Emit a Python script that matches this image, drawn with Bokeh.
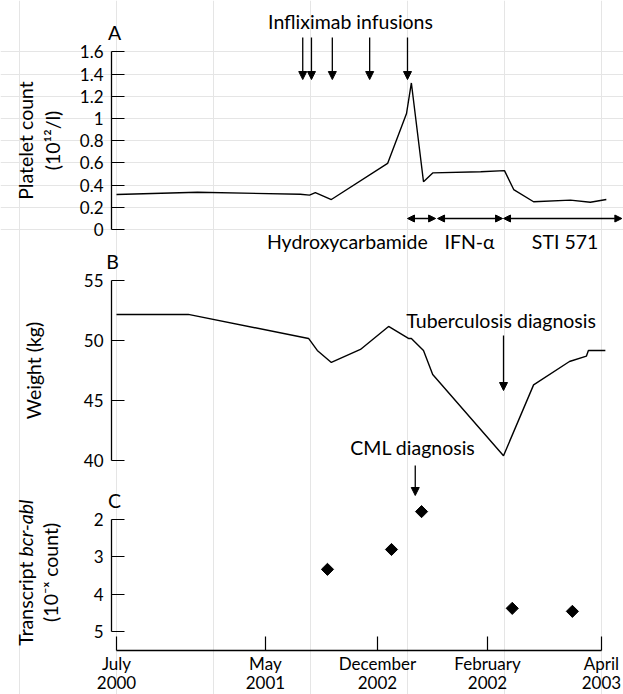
import math
from bokeh.plotting import figure
from bokeh.models import Range1d, FixedTicker, Label, Arrow, NormalHead, LinearAxis
from bokeh.embed import file_html
from bokeh.resources import INLINE

FONT = "Lato"

# ---------------- data (x = relative time position on the shared axis) ----------------
x_ticks = [0, 30.7, 53.8, 76.5, 100]
x_tick_labels = ["July\n2000", "May\n2001", "December\n2002", "February\n2002", "April\n2003"]

platelet_x = [0, 16.7, 37.9, 39.8, 41.0, 44.3, 55.9, 59.8, 60.8, 63.3, 65.2, 75.1, 80.0, 81.9, 86.0, 93.6, 97.7, 101.0]
platelet_y = [0.315, 0.335, 0.318, 0.31, 0.333, 0.27, 0.595, 1.045, 1.32, 0.43, 0.51, 0.52, 0.53, 0.36, 0.25, 0.265, 0.245, 0.27]

infusion_x = [38.4, 40.2, 44.5, 52.2, 60.0]

treat_names = ["Hydroxycarbamide", "IFN-\u03b1", "STI 571"]
treat_start = [60.0, 66.2, 79.8]
treat_end = [65.8, 79.6, 104.2]
treat_label_x = [47.6, 72.8, 92.5]

weight_x = [0, 14.8, 39.6, 41.4, 44.3, 50.3, 56.1, 60.2, 60.8, 63.3, 65.2, 79.8, 86.0, 93.4, 96.9, 97.3, 100.8]
weight_y = [52.17, 52.17, 50.17, 49.17, 48.17, 49.25, 51.17, 50.17, 50.17, 49.17, 47.17, 40.4, 46.3, 48.25, 48.7, 49.17, 49.17]

tb_diag_x = 79.8
cml_diag_x = 61.6

bcr_x = [43.5, 56.7, 62.9, 81.6, 94.0]
bcr_y = [3.33, 2.8, 1.79, 4.37, 4.45]

A_ticks = [0, 0.2, 0.4, 0.6, 0.8, 1.0, 1.2, 1.4, 1.6]
B_ticks = [40, 45, 50, 55]
C_ticks = [2, 3, 4, 5]

# ---------------- layout: one frame, three stacked y scales ----------------
W, H = 623, 694
Y_AXIS_AT = -1.031
TXT = "19.5px"

p = figure(width=W, height=H,
           x_range=Range1d(-23.92, 104.54),
           y_range=Range1d(-4.189, 2.063),          # panel A scale
           output_backend="svg", toolbar_location=None,
           x_axis_location=None, y_axis_location=None,
           min_border_left=0, min_border_right=0,
           min_border_top=0, min_border_bottom=0)
p.extra_y_ranges = {"B": Range1d(20.5, 78.33),       # panel B scale
                    "C": Range1d(6.667, -11.84)}     # panel C scale (inverted)
p.outline_line_color = None
p.background_fill_color = "white"
p.border_fill_color = "white"


def yaxis(ticks, bounds, rng="default", overrides=None):
    ax = LinearAxis(y_range_name=rng, fixed_location=Y_AXIS_AT,
                    ticker=FixedTicker(ticks=ticks), bounds=bounds)
    ax.axis_line_width = 1.3
    ax.axis_line_color = "black"
    ax.major_tick_in = 13
    ax.major_tick_out = 0
    ax.major_tick_line_width = 1.2
    ax.minor_tick_line_color = None
    ax.major_label_standoff = 8
    ax.major_label_text_font = FONT
    ax.major_label_text_font_size = "17px"
    ax.major_label_text_color = "black"
    if overrides:
        ax.major_label_overrides = overrides
    p.add_layout(ax, "left")


def lab(x, y, text, rng="default", size=TXT, align="center", baseline="alphabetic",
        angle=0.0, style="normal"):
    p.add_layout(Label(x=x, y=y, y_range_name=rng, text=text, text_font=FONT,
                       text_font_size=size, text_align=align, text_baseline=baseline,
                       angle=angle, text_font_style=style, text_color="black"))


def arrow(x0, y0, x1, y1, rng="default", double=False, size=8):
    head = lambda: NormalHead(size=size, fill_color="black", line_color="black", line_width=1)
    p.add_layout(Arrow(x_start=x0, y_start=y0, x_end=x1, y_end=y1, y_range_name=rng,
                       end=head(), start=(head() if double else None),
                       line_color="black", line_width=1.3))


# ---------------- Panel A ----------------
yaxis(A_ticks, (0, 1.6), overrides={t: ("%g" % t) for t in A_ticks})
p.line(platelet_x, platelet_y, line_color="black", line_width=1.4)
lab(-0.41, 1.775, "A")
lab(48.25, 1.874, "Infliximab infusions")
for xi in infusion_x:
    arrow(xi, 1.730, xi, 1.351)
for s, e in zip(treat_start, treat_end):
    arrow(s, 0.099, e, 0.099, double=True, size=7)
for name, lx in zip(treat_names, treat_label_x):
    lab(lx, -0.108, name)
lab(-18.76, 0.802, "Platelet count", baseline="middle", angle=math.pi / 2)
lab(-13.2, 0.802, "(10\u00b9\u00b2/l)", baseline="middle", angle=math.pi / 2)

# ---------------- Panel B ----------------
yaxis(B_ticks, (40, 55), rng="B")
p.line(weight_x, weight_y, y_range_name="B", line_color="black", line_width=1.4)
lab(-0.8, 56.55, "B", rng="B")
lab(79.3, 51.66, "Tuberculosis diagnosis", rng="B")
arrow(tb_diag_x, 50.42, tb_diag_x, 45.83, rng="B")
lab(61.1, 41.08, "CML diagnosis", rng="B")
lab(-17.1, 47.5, "Weight (kg)", rng="B", baseline="middle", angle=math.pi / 2)

# ---------------- Panel C ----------------
yaxis(C_ticks, (2, 5), rng="C")
xa = LinearAxis(y_range_name="C", fixed_location=5.493,
                ticker=FixedTicker(ticks=x_ticks), bounds=(0, 100))
xa.major_label_overrides = dict(zip(x_ticks, x_tick_labels))
xa.axis_line_width = 1.3
xa.axis_line_color = "black"
xa.major_tick_in = 14
xa.major_tick_out = 0
xa.major_tick_line_width = 1.2
xa.minor_tick_line_color = None
xa.major_label_standoff = 3
xa.major_label_text_font = FONT
xa.major_label_text_font_size = "17px"
xa.major_label_text_line_height = 0.9
xa.major_label_text_color = "black"
p.add_layout(xa, "below")

p.scatter(bcr_x, bcr_y, y_range_name="C", marker="square", angle=math.pi / 4, size=8.6,
          fill_color="black", line_color="black")
lab(-0.41, 1.493, "C", rng="C")
arrow(cml_diag_x, 0.56, cml_diag_x, 1.36, rng="C")
lab(-18.76, 3.12, "Transcript", rng="C", align="right", baseline="middle", angle=math.pi / 2)
lab(-18.76, 2.987, "bcr-abl", rng="C", align="left", baseline="middle", angle=math.pi / 2,
    style="italic")
lab(-13.6, 3.41, "(10\u207b\u02e3 count)", rng="C", baseline="middle", angle=math.pi / 2)

open("out.html", "w").write(file_html(p, INLINE))
